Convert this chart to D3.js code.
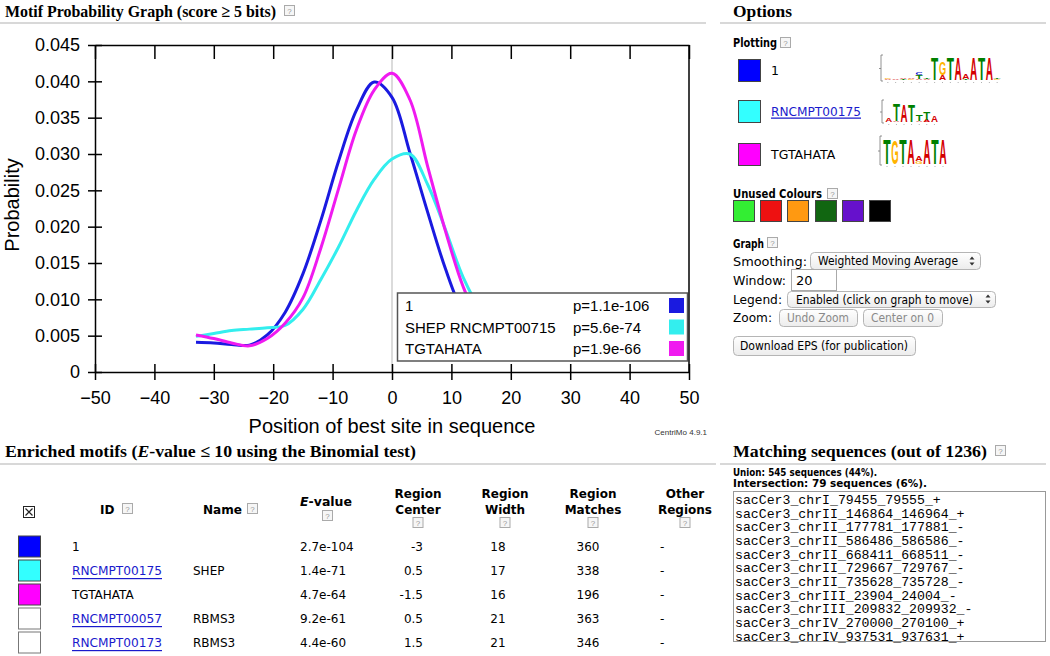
<!DOCTYPE html>
<html><head><meta charset="utf-8">
<script src="https://cdn.jsdelivr.net/npm/d3@7"></script>
<style>body{margin:0;background:#fff}</style>
</head><body><svg id="c" width="1050" height="656"></svg>
<script>
// ---------------- data ----------------
const positions = [-33,-30,-27,-24,-21,-18,-15,-12,-9,-6,-3,0,3,6,9,12,15,18,21,24,27,30,33];
const motif1   = [0.0041,0.0040,0.0038,0.0037,0.0051,0.0082,0.0135,0.0208,0.0290,0.0360,0.0399,0.0378,0.0302,0.0220,0.0142,0.0080,0.0045,0.0030,0.0027,0.0030,0.0034,0.0038,0.0040];
const motifSHEP= [0.0049,0.0053,0.0057,0.0059,0.0061,0.0064,0.0086,0.0127,0.0172,0.0222,0.0265,0.0293,0.0300,0.0258,0.0196,0.0130,0.0085,0.0060,0.0052,0.0050,0.0050,0.0050,0.0050];
const motifTGTA= [0.0051,0.0046,0.0040,0.0036,0.0046,0.0067,0.0102,0.0170,0.0252,0.0333,0.0388,0.0411,0.0375,0.0283,0.0194,0.0117,0.0065,0.0040,0.0035,0.0038,0.0042,0.0046,0.0050];
const seriesColors = ["#1a1ae0","#33eeee","#f01af0"];
const legendLabels = ["1","SHEP RNCMPT00715","TGTAHATA"];
const legendPvalues = ["p=1.1e-106","p=5.6e-74","p=1.9e-66"];
const xTickValues = [-50,-40,-30,-20,-10,0,10,20,30,40,50];
const yTickValues = [0,0.005,0.010,0.015,0.020,0.025,0.030,0.035,0.040,0.045];

const plotIds = ["1","RNCMPT00175","TGTAHATA"];
const plotIsLink = [false,true,false];
const unusedColours = ["#33ee33","#ee1111","#ff9911","#116611","#6611cc","#000000"];

const tableIds = ["1","RNCMPT00175","TGTAHATA","RNCMPT00057","RNCMPT00173"];
const tableIsLink = [false,true,false,true,true];
const tableNames = ["","SHEP","","RBMS3","RBMS3"];
const tableEvalues = ["2.7e-104","1.4e-71","4.7e-64","9.2e-61","4.4e-60"];
const tableCenters = ["-3","0.5","-1.5","0.5","1.5"];
const tableWidths = ["18","17","16","21","21"];
const tableMatches = ["360","338","196","363","346"];
const tableOther = ["-","-","-","-","-"];
const tableColors = ["#0000ff","#33ffff","#ff00ff",null,null];

const sequences = ["sacCer3_chrI_79455_79555_+","sacCer3_chrII_146864_146964_+","sacCer3_chrII_177781_177881_-","sacCer3_chrII_586486_586586_-","sacCer3_chrII_668411_668511_-","sacCer3_chrII_729667_729767_-","sacCer3_chrII_735628_735728_-","sacCer3_chrIII_23904_24004_-","sacCer3_chrIII_209832_209932_-","sacCer3_chrIV_270000_270100_+","sacCer3_chrIV_937531_937631_+"];

// logo columns: stacks of [letter, relative height] from bottom
const logo1 = [[["A",0.05],["G",0.03]],[["A",0.05]],[["T",0.04],["A",0.07]],[["G",0.04],["A",0.06]],[["A",0.06],["T",0.16],["C",0.1]],[["A",0.05],["T",0.04]],[["T",0.95]],[["A",0.22],["G",0.55]],[["T",0.95]],[["A",0.95]],[["T",0.04],["A",0.22]],[["A",0.95]],[["T",0.95]],[["A",0.95]],[["G",0.05],["T",0.05]]];
const logo2 = [[["A",0.2]],[["A",0.06],["T",0.85]],[["A",0.85]],[["T",0.85]],[["A",0.06],["T",0.35]],[["A",0.12],["T",0.4]],[["A",0.3]]];
const logo3 = [[["T",0.95]],[["G",0.9]],[["T",0.95]],[["A",0.95]],[["G",0.1],["A",0.2]],[["A",0.95]],[["T",0.95]],[["A",0.95]]];
const letterColors = {A:"#d40000",C:"#0000cc",G:"#ffb300",T:"#008000"};

// ---------------- helpers ----------------
const svg = d3.select("#c");
const SERIF = "'Liberation Serif','DejaVu Serif',serif";
const SANS = "'Liberation Sans',Arial,sans-serif";
const VERD = "'DejaVu Sans',Verdana,sans-serif";
const MONO = "'Liberation Mono','Courier New',monospace";
const LINK = "#1a1acc";

function txt(g,x,y,s,o={}){
  const t=g.append("text").attr("x",x).attr("y",y).attr("dominant-baseline","central")
    .attr("font-family",o.font||VERD).attr("font-size",o.size||12).attr("fill",o.fill||"#000").text(s);
  if(o.weight) t.attr("font-weight",o.weight);
  if(o.anchor) t.attr("text-anchor",o.anchor);
  if(o.len) t.attr("textLength",o.len).attr("lengthAdjust","spacingAndGlyphs");
  if(o.underline) t.attr("text-decoration","underline");
  return t;
}
function help(x,y){
  svg.append("rect").attr("x",x+0.5).attr("y",y+0.5).attr("width",10).attr("height",10)
    .attr("fill","#f6f6f6").attr("stroke","#aaa");
  txt(svg,x+5.5,y+6,"?",{size:8,fill:"#999",anchor:"middle",font:SANS});
}
function hline(x1,x2,y){
  svg.append("line").attr("x1",x1).attr("x2",x2).attr("y1",y).attr("y2",y).attr("stroke","#d8d8d8").attr("stroke-width",2);
}
function swatch(x,y,w,h,c){
  svg.append("rect").attr("x",x+0.5).attr("y",y+0.5).attr("width",w).attr("height",h)
    .attr("fill",c||"#fff").attr("stroke",c?"#444":"#777").attr("stroke-width",1);
}
function ctrl(x,y,w,h){
  svg.append("rect").attr("x",x+0.5).attr("y",y+0.5).attr("width",w).attr("height",h).attr("rx",4)
    .attr("fill","url(#btn)").attr("stroke","#b5b5b5");
}
function updown(x,yc){
  svg.append("path").attr("d",`M${x-2.5},${yc-1.5}L${x},${yc-4.5}L${x+2.5},${yc-1.5}Z M${x-2.5},${yc+1.5}L${x},${yc+4.5}L${x+2.5},${yc+1.5}Z`).attr("fill","#333");
}
const defs=svg.append("defs");
const grad=defs.append("linearGradient").attr("id","btn").attr("x1",0).attr("x2",0).attr("y1",0).attr("y2",1);
grad.append("stop").attr("offset","0").attr("stop-color","#ffffff");
grad.append("stop").attr("offset","1").attr("stop-color","#ececec");

// ---------------- section titles ----------------
txt(svg,5,11,"Motif Probability Graph (score ≥ 5 bits)",{font:SERIF,size:17,weight:"bold",len:271});
help(284,5);
hline(0,706,23);
txt(svg,733,11,"Options",{font:SERIF,size:17,weight:"bold",len:59});
hline(720,1046,23);

const t2=svg.append("text").attr("x",5).attr("y",451).attr("dominant-baseline","central")
  .attr("font-family",SERIF).attr("font-size",17).attr("font-weight","bold")
  .attr("textLength",411).attr("lengthAdjust","spacingAndGlyphs");
t2.append("tspan").text("Enriched motifs (");
t2.append("tspan").attr("font-style","italic").text("E");
t2.append("tspan").text("-value ≤ 10 using the Binomial test)");
hline(0,716,464);
txt(svg,733,451,"Matching sequences (out of 1236)",{font:SERIF,size:17,weight:"bold",len:254});
help(995,445);
hline(720,1046,464);

// ---------------- chart ----------------
const x=d3.scaleLinear().domain([-50,50]).range([95,689]);
const y=d3.scaleLinear().domain([0,0.045]).range([372,45]);
const chart=svg.append("g");

chart.append("line").attr("x1",x(0)).attr("x2",x(0)).attr("y1",y(0.045)).attr("y2",y(0))
  .attr("stroke","#cfcfcf").attr("stroke-width",1.5);

const line=d3.line().x((d,i)=>x(positions[i])).y(d=>y(d)).curve(d3.curveCatmullRom.alpha(0.5));
[motif1,motifSHEP,motifTGTA].forEach((s,i)=>{
  chart.append("path").attr("d",line(s)).attr("fill","none").attr("stroke",seriesColors[i]).attr("stroke-width",3);
});

// legend
const lg=chart.append("g");
lg.append("rect").attr("x",397.5).attr("y",293).attr("width",290).attr("height",68)
  .attr("fill","#fff").attr("stroke","#555").attr("stroke-width",1.5);
const legY=[305.5,327,348.5];
legendLabels.forEach((l,i)=>{
  txt(lg,405,legY[i],l,{font:SANS,size:15});
  txt(lg,573,legY[i],legendPvalues[i],{font:SANS,size:15});
  lg.append("rect").attr("x",669).attr("y",legY[i]-7.5).attr("width",15).attr("height",15).attr("fill",seriesColors[i]);
});

// axes
const yAx=chart.append("g").attr("transform",`translate(${x(-50)},0)`)
  .call(d3.axisLeft(y).tickValues(yTickValues).tickSize(7).tickSizeOuter(0).tickPadding(8)
    .tickFormat(d=>d===0?"0":d3.format(".3f")(d)));
yAx.selectAll(".tick line").attr("x1",7).attr("x2",-7);
yAx.selectAll("text").attr("font-family",SANS).attr("font-size",18).attr("fill","#000");
yAx.selectAll("line,path").attr("stroke","#000").attr("stroke-width",1.5);

const xAx=chart.append("g").attr("transform",`translate(0,${y(0)})`)
  .call(d3.axisBottom(x).tickValues(xTickValues).tickSize(8).tickSizeOuter(0).tickPadding(11));
xAx.selectAll(".tick line").attr("y1",-8).attr("y2",8);
xAx.selectAll("text").attr("font-family",SANS).attr("font-size",18).attr("fill","#000");
xAx.selectAll("line,path").attr("stroke","#000").attr("stroke-width",1.5);

const topAx=chart.append("g").attr("transform",`translate(0,${y(0.045)})`)
  .call(d3.axisBottom(x).tickValues(xTickValues).tickSize(14).tickSizeOuter(0).tickFormat(""));
topAx.selectAll("line,path").attr("stroke","#000").attr("stroke-width",1.5);
chart.append("line").attr("x1",x(50)).attr("x2",x(50)).attr("y1",y(0.045)).attr("y2",y(0))
  .attr("stroke","#000").attr("stroke-width",1.5);

txt(chart,x(0),426,"Position of best site in sequence",{font:SANS,size:20,anchor:"middle"});
txt(chart,0,0,"Probability",{font:SANS,size:20,anchor:"middle"}).attr("transform","translate(12,205) rotate(-90)");
txt(chart,707,432,"CentriMo 4.9.1",{font:SANS,size:8,anchor:"end",fill:"#333"});

// ---------------- options ----------------
txt(svg,733,43,"Plotting",{size:11.5,weight:"bold",len:44});
help(780,37);
const plotY=[59,100,143];
plotIds.forEach((id,i)=>{
  swatch(738,plotY[i],22,22,tableColors[i]);
  txt(svg,771,plotY[i]+11,id,plotIsLink[i]?{size:12.5,fill:LINK,underline:true,len:90}:{size:12.5});
});

function drawLogo(x0,base,colW,fullH,cols){
  const g=svg.append("g");
  g.append("path").attr("d",`M${x0-1},${base-fullH-2}h-2v${fullH+3}h2`).attr("fill","none").attr("stroke","#777").attr("stroke-width",0.8);
  g.append("line").attr("x1",x0-5).attr("x2",x0-3).attr("y1",base-fullH*0.5).attr("y2",base-fullH*0.5).attr("stroke","#777").attr("stroke-width",0.8);
  cols.forEach((stack,ci)=>{
    let yb=base;
    stack.forEach(([L,h])=>{
      const hh=h*fullH;
      if(hh<0.4){yb-=hh;return;}
      g.append("text").attr("x",x0+ci*colW+0.3).attr("y",yb)
        .attr("font-family",SANS).attr("font-weight","bold").attr("font-size",hh/0.716)
        .attr("fill",letterColors[L]).attr("textLength",colW-0.6).attr("lengthAdjust","spacingAndGlyphs").text(L);
      yb-=hh;
    });
    g.append("circle").attr("cx",x0+ci*colW+colW/2).attr("cy",base+2.5).attr("r",0.5).attr("fill","#999");
  });
}
drawLogo(884,80,7.8,23,logo1);
drawLogo(885,122,7.6,20,logo2);
drawLogo(883,164,8,26,logo3);

txt(svg,733,194,"Unused Colours",{size:11.5,weight:"bold",len:89});
help(827,188);
const ucX=[733,760,787,815,842,869];
unusedColours.forEach((c,i)=>swatch(ucX[i],200,21,21,c));

txt(svg,733,244,"Graph",{size:11.5,weight:"bold",len:31});
help(767,237);
txt(svg,733,261,"Smoothing:",{size:13,len:74});
ctrl(810,252,170,17); txt(svg,818,261,"Weighted Moving Average",{size:12,len:140}); updown(972,261);
txt(svg,733,280,"Window:",{size:13,len:53});
svg.append("rect").attr("x",791.5).attr("y",269.5).attr("width",45).attr("height",21).attr("fill","#fff").attr("stroke","#aaa");
txt(svg,796,280.5,"20",{size:13});
txt(svg,733,299,"Legend:",{size:13,len:49});
ctrl(787,291,208,16); txt(svg,796,299.5,"Enabled (click on graph to move)",{size:12,len:177}); updown(988,299);
txt(svg,733,317,"Zoom:",{size:13,len:39});
ctrl(779,309,78,17); txt(svg,818,318,"Undo Zoom",{size:12,fill:"#8a8a8a",anchor:"middle",len:62});
ctrl(863,309,79,17); txt(svg,902.5,318,"Center on 0",{size:12,fill:"#8a8a8a",anchor:"middle",len:63});
ctrl(733,336,182,19); txt(svg,824,346,"Download EPS (for publication)",{size:12,anchor:"middle",len:168});

// ---------------- table ----------------
svg.append("rect").attr("x",23.5).attr("y",506.5).attr("width",11).attr("height",11).attr("fill","#fff").attr("stroke","#222");
svg.append("path").attr("d","M25.5,508.5L32.5,515.5M32.5,508.5L25.5,515.5").attr("stroke","#222").attr("stroke-width",1.2);

txt(svg,100,510,"ID",{size:12,weight:"bold"}); help(122,503);
txt(svg,203,510,"Name",{size:12,weight:"bold",len:39}); help(247,503);
const eh=svg.append("text").attr("x",300).attr("y",502).attr("dominant-baseline","central").attr("font-family",VERD)
  .attr("font-size",12).attr("font-weight","bold").attr("textLength",52).attr("lengthAdjust","spacingAndGlyphs");
eh.append("tspan").attr("font-style","italic").text("E"); eh.append("tspan").text("-value");
help(322,510);
const hdrs=[["Region","Center",418],["Region","Width",505],["Region","Matches",593],["Other","Regions",685]];
hdrs.forEach(([a,b,cx])=>{
  txt(svg,cx,494,a,{size:12,weight:"bold",anchor:"middle"});
  txt(svg,cx,509.5,b,{size:12,weight:"bold",anchor:"middle"});
  help(cx-5.5,517);
});
tableIds.forEach((id,i)=>{
  const ry=547+i*24;
  swatch(18,ry-11.5,22,21,tableColors[i]);
  txt(svg,72,ry,id,tableIsLink[i]?{size:12,fill:LINK,underline:true,len:90}:{size:12});
  txt(svg,193,ry,tableNames[i],{size:12});
  txt(svg,300,ry,tableEvalues[i],{size:12});
  txt(svg,423,ry,tableCenters[i],{size:12,anchor:"end"});
  txt(svg,498,ry,tableWidths[i],{size:12,anchor:"middle"});
  txt(svg,588,ry,tableMatches[i],{size:12,anchor:"middle"});
  txt(svg,660,ry,tableOther[i],{size:12});
});

// ---------------- matching sequences ----------------
txt(svg,733,472,"Union: 545 sequences (44%).",{size:11,weight:"bold",len:144});
txt(svg,733,483.5,"Intersection: 79 sequences (6%).",{size:11,weight:"bold",len:194});
svg.append("rect").attr("x",733.5).attr("y",491.5).attr("width",312).attr("height",150).attr("fill","#fff").attr("stroke","#999");
sequences.forEach((s,i)=>txt(svg,735,500.5+i*13.65,s,{font:MONO,size:13.2}));
</script></body></html>
